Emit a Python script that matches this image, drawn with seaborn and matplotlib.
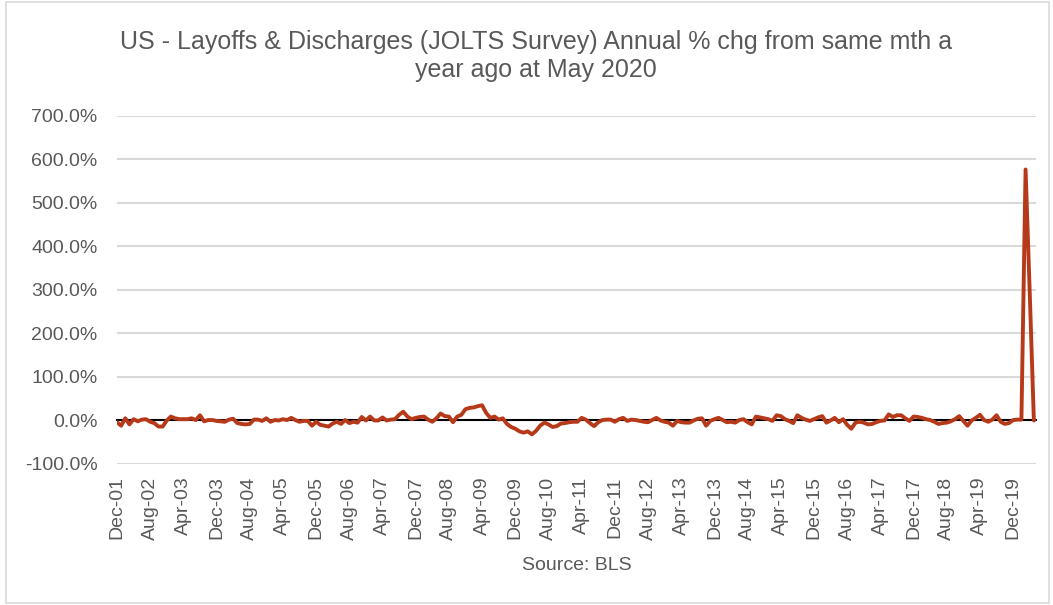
import numpy as np
import pandas as pd
import matplotlib
matplotlib.use("Agg")
import matplotlib.pyplot as plt
import seaborn as sns
from matplotlib.patches import Rectangle
from matplotlib.ticker import FixedLocator, FuncFormatter

# Layoffs & discharges, % change on the same month a year earlier (Dec-2001 .. May-2020)
start_month = "2001-12-01"
yoy_pct = [
    -4, -12, 5, -9, 3, -2, 2, 3, -3, -6,
    -14, -14, 0, 9, 5, 3, 3, 3, 5, 1,
    12, -2, 1, 1, -1, -2, -3, 2, 4, -6,
    -8, -9, -8, 2, 2, -1, 5, -3, 1, 0,
    3, 1, 6, 1, -3, -1, -1, -12, -3, -10,
    -12, -14, -7, -3, -8, 1, -6, -3, -5, 8,
    0, 9, 0, 0, 7, 0, 2, 3, 13, 20,
    9, 3, 6, 8, 9, 2, -3, 5, 16, 10,
    9, -4, 9, 13, 26, 29, 30, 33, 35, 17,
    6, 9, 2, 5, -8, -15, -19, -25, -28, -25,
    -32, -24, -12, -5, -9, -15, -13, -7, -6, -4,
    -3, -3, 6, 2, -6, -13, -4, 1, 2, 2,
    -3, 3, 6, -1, 2, 1, -1, -3, -4, 1,
    6, 0, -3, -5, -12, -1, -4, -5, -5, 0,
    4, 5, -12, -1, 3, 6, 1, -4, -3, -5,
    1, 3, -4, -9, 9, 7, 5, 3, -1, 12,
    10, 3, -1, -6, 12, 6, 2, -1, 3, 7,
    10, -5, 0, 6, -4, 3, -10, -19, -5, -3,
    -5, -9, -8, -4, -1, 0, 14, 8, 12, 12,
    5, -1, 9, 8, 6, 3, 1, -3, -8, -6,
    -5, -2, 3, 10, -1, -12, 0, 6, 13, 1,
    -3, 2, 12, -3, -8, -6, 1, 2, 2, 577,
    295, 0,
]
y_ticks = [-100, 0, 100, 200, 300, 400, 500, 600, 700]
title_text = ("US - Layoffs & Discharges (JOLTS Survey) Annual % chg from same mth a\n"
              "year ago at May 2020")
source_text = "Source: BLS"

months = pd.date_range(start_month, periods=len(yoy_pct), freq="MS")
df = pd.DataFrame({"pos": np.arange(len(yoy_pct)), "pct": yoy_pct})
month_labels = [m.strftime("%b-%y") for m in months]

sns.set_style("white")
plt.rcParams["font.family"] = ["Liberation Sans", "DejaVu Sans"]

text_col = "#595959"
grid_col = "#D9D9D9"
line_col = "#B63A1A"

fig = plt.figure(figsize=(10.53, 6.05), dpi=100)
ax = fig.add_axes([0.1111, 0.2331, 0.8727, 0.5752])

sns.lineplot(data=df, x="pos", y="pct", ax=ax, color=line_col, linewidth=2.8,
             zorder=3)

ax.set_xlim(0, len(yoy_pct) - 0.5)
ax.set_ylim(y_ticks[0], y_ticks[-1])
ax.set_yticks(y_ticks)
ax.yaxis.set_major_formatter(FuncFormatter(lambda v, _: f"{v:.1f}%"))
ax.grid(axis="y", color=grid_col, linewidth=1.5, zorder=0)
ax.grid(axis="x", visible=False)
ax.tick_params(axis="y", length=0, pad=14, labelsize=14, labelcolor=text_col)

for side in ("top", "right", "left"):
    ax.spines[side].set_visible(False)

# Horizontal axis line runs through zero with small ticks every 4 months
ax.spines["bottom"].set_position(("data", 0))
ax.spines["bottom"].set_color("black")
ax.spines["bottom"].set_linewidth(1.5)
ax.spines["bottom"].set_zorder(2)
ax.xaxis.set_major_locator(FixedLocator(np.arange(0, len(yoy_pct), 4)))
ax.tick_params(axis="x", direction="out", length=4, width=1.3, color="black",
               labelbottom=False)
ax.set_xlabel("")
ax.set_ylabel("")

# Month labels sit below the plot area, one every 8 months
lab_ax = ax.secondary_xaxis(0.0)
lab_pos = np.arange(0, len(yoy_pct), 8)
lab_ax.set_xticks(lab_pos)
lab_ax.set_xticklabels([month_labels[i] for i in lab_pos], rotation=90)
lab_ax.tick_params(length=0, pad=9, labelsize=14, labelcolor=text_col)
lab_ax.spines["bottom"].set_visible(False)

fig.text(0.509, 0.907, title_text, ha="center", va="center", fontsize=18,
         color=text_col, linespacing=1.2)
fig.text(0.548, 0.066, source_text, ha="center", va="center", fontsize=14,
         color=text_col)

fig.patches.append(Rectangle((0.006, 0.004), 0.99, 0.992, transform=fig.transFigure,
                             fill=False, edgecolor=grid_col, linewidth=1.2))

fig.savefig("out.png", dpi=100, facecolor="white")
